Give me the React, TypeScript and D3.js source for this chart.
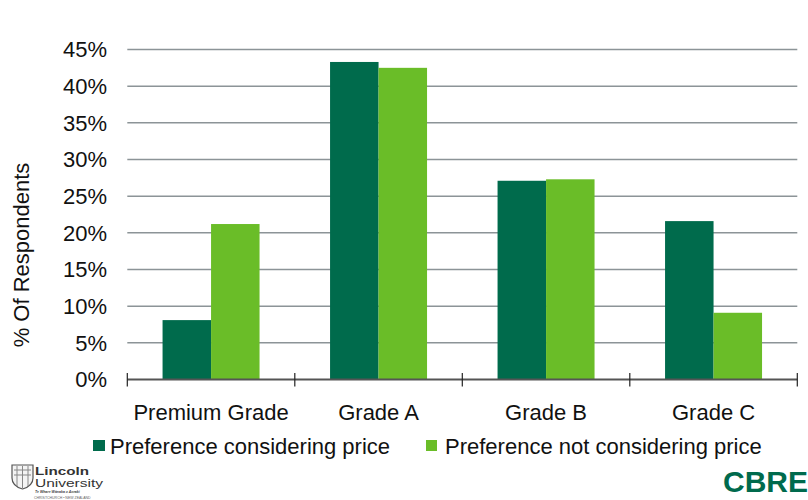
import React, { useEffect, useRef } from "react";
import * as d3 from "d3";

const categories = ["Premium Grade", "Grade A", "Grade B", "Grade C"];
const seriesNames = ["Preference considering price", "Preference not considering price"];
const considering = [0.081, 0.433, 0.271, 0.216];
const notConsidering = [0.212, 0.425, 0.273, 0.091];
const yTicks = [0, 0.05, 0.1, 0.15, 0.2, 0.25, 0.3, 0.35, 0.4, 0.45];
const colors = ["#006b4c", "#6abd28"];

const W = 808;
const H = 500;
const font = "Arial, 'Liberation Sans', sans-serif";

const App: React.FC = () => {
  const svgRef = useRef<SVGSVGElement>(null);

  useEffect(() => {
    const svg = d3.select(svgRef.current);
    svg.selectAll("*").remove();

    const x = d3.scaleBand().domain(categories).range([127.3, 797.3]).padding(0);
    const xSub = d3
      .scaleBand()
      .domain(seriesNames)
      .range([0, x.bandwidth()])
      .paddingInner(0)
      .paddingOuter(0.727);
    const y = d3.scaleLinear().domain([0, 0.45]).range([379.5, 49.5]);

    const rows = categories.map((c, i) => ({
      category: c,
      values: [considering[i], notConsidering[i]],
    }));

    // grid lines
    svg
      .append("g")
      .selectAll("line")
      .data(yTicks.filter((t) => t > 0))
      .enter()
      .append("line")
      .attr("x1", x.range()[0])
      .attr("x2", x.range()[1])
      .attr("y1", (d) => y(d))
      .attr("y2", (d) => y(d))
      .attr("stroke", "#8c9497")
      .attr("stroke-width", 1.5);

    // y tick labels
    svg
      .append("g")
      .selectAll("text")
      .data(yTicks)
      .enter()
      .append("text")
      .attr("x", 107)
      .attr("y", (d) => y(d))
      .attr("dy", "0.36em")
      .attr("text-anchor", "end")
      .attr("font-family", font)
      .attr("font-size", 22)
      .attr("fill", "#111")
      .text((d) => d3.format(".0%")(d));

    // bars
    const groups = svg
      .append("g")
      .selectAll("g")
      .data(rows)
      .enter()
      .append("g")
      .attr("transform", (d) => `translate(${x(d.category)},0)`);

    groups
      .selectAll("rect")
      .data((d) => d.values.map((v, i) => ({ name: seriesNames[i], v, i })))
      .enter()
      .append("rect")
      .attr("x", (d) => xSub(d.name) as number)
      .attr("width", xSub.bandwidth())
      .attr("y", (d) => y(d.v))
      .attr("height", (d) => y(0) - y(d.v))
      .attr("fill", (d) => colors[d.i]);

    // baseline + category ticks
    svg
      .append("line")
      .attr("x1", x.range()[0])
      .attr("x2", x.range()[1])
      .attr("y1", y(0))
      .attr("y2", y(0))
      .attr("stroke", "#555")
      .attr("stroke-width", 2);

    const bounds = categories.map((c) => x(c) as number).concat([x.range()[1]]);
    svg
      .append("g")
      .selectAll("line")
      .data(bounds)
      .enter()
      .append("line")
      .attr("x1", (d) => d)
      .attr("x2", (d) => d)
      .attr("y1", y(0) - 6.5)
      .attr("y2", y(0) + 7)
      .attr("stroke", "#222")
      .attr("stroke-width", 1.2);

    // category labels
    svg
      .append("g")
      .selectAll("text")
      .data(categories)
      .enter()
      .append("text")
      .attr("x", (d) => (x(d) as number) + x.bandwidth() / 2)
      .attr("y", 420)
      .attr("text-anchor", "middle")
      .attr("font-family", font)
      .attr("font-size", 22)
      .attr("fill", "#111")
      .text((d) => d);

    // y axis title
    svg
      .append("text")
      .attr("transform", "translate(29,255) rotate(-90)")
      .attr("text-anchor", "middle")
      .attr("font-family", font)
      .attr("font-size", 22)
      .attr("fill", "#111")
      .text("% Of Respondents");

    // legend
    const legendX = [93, 426];
    const legend = svg
      .append("g")
      .selectAll("g")
      .data(seriesNames)
      .enter()
      .append("g")
      .attr("transform", (_, i) => `translate(${legendX[i]},440)`);
    legend
      .append("rect")
      .attr("width", (_, i) => (i === 0 ? 12 : 11))
      .attr("height", 11)
      .attr("fill", (_, i) => colors[i]);
    legend
      .append("text")
      .attr("x", (_, i) => (i === 0 ? 17 : 19))
      .attr("y", 14)
      .attr("font-family", font)
      .attr("font-size", 22)
      .attr("fill", "#111")
      .text((d) => d);

    // Lincoln University logo
    const logo = svg.append("g");
    logo
      .append("path")
      .attr("d", "M12,465 L33,465 L33,478 Q33,486 22.5,489 Q12,486 12,478 Z")
      .attr("fill", "#f4f4f4")
      .attr("stroke", "#555")
      .attr("stroke-width", 1.2);
    logo
      .append("path")
      .attr("d", "M14,470 L31,470 M14,475 L31,475 M17,466 L17,486 M22.5,466 L22.5,488 M28,466 L28,486")
      .attr("stroke", "#888")
      .attr("stroke-width", 1);
    logo
      .append("text")
      .attr("x", 35)
      .attr("y", 474.5)
      .attr("font-family", font)
      .attr("font-size", 11)
      .attr("font-weight", "bold")
      .attr("fill", "#333")
      .attr("textLength", 54)
      .attr("lengthAdjust", "spacingAndGlyphs")
      .text("Lincoln");
    logo
      .append("text")
      .attr("x", 35)
      .attr("y", 487)
      .attr("font-family", font)
      .attr("font-size", 10.5)
      .attr("fill", "#333")
      .attr("textLength", 68)
      .attr("lengthAdjust", "spacingAndGlyphs")
      .text("University");
    logo
      .append("text")
      .attr("x", 35)
      .attr("y", 492.5)
      .attr("font-family", font)
      .attr("font-size", 3.5)
      .attr("font-style", "italic")
      .attr("font-weight", "bold")
      .attr("fill", "#444")
      .text("Te Whare Wānaka o Aoraki");
    logo
      .append("text")
      .attr("x", 34)
      .attr("y", 498.5)
      .attr("font-family", font)
      .attr("font-size", 3.5)
      .attr("fill", "#666")
      .text("CHRISTCHURCH • NEW ZEALAND");

    // CBRE logo
    svg
      .append("text")
      .attr("x", 723)
      .attr("y", 492)
      .attr("font-family", font)
      .attr("font-size", 30)
      .attr("font-weight", "bold")
      .attr("fill", "#006a4d")
      .attr("textLength", 85)
      .attr("lengthAdjust", "spacingAndGlyphs")
      .text("CBRE");
  }, []);

  return (
    <svg
      ref={svgRef}
      width={W}
      height={H}
      style={{ position: "absolute", left: 0, top: 0, background: "#fff" }}
    />
  );
};

export default App;
